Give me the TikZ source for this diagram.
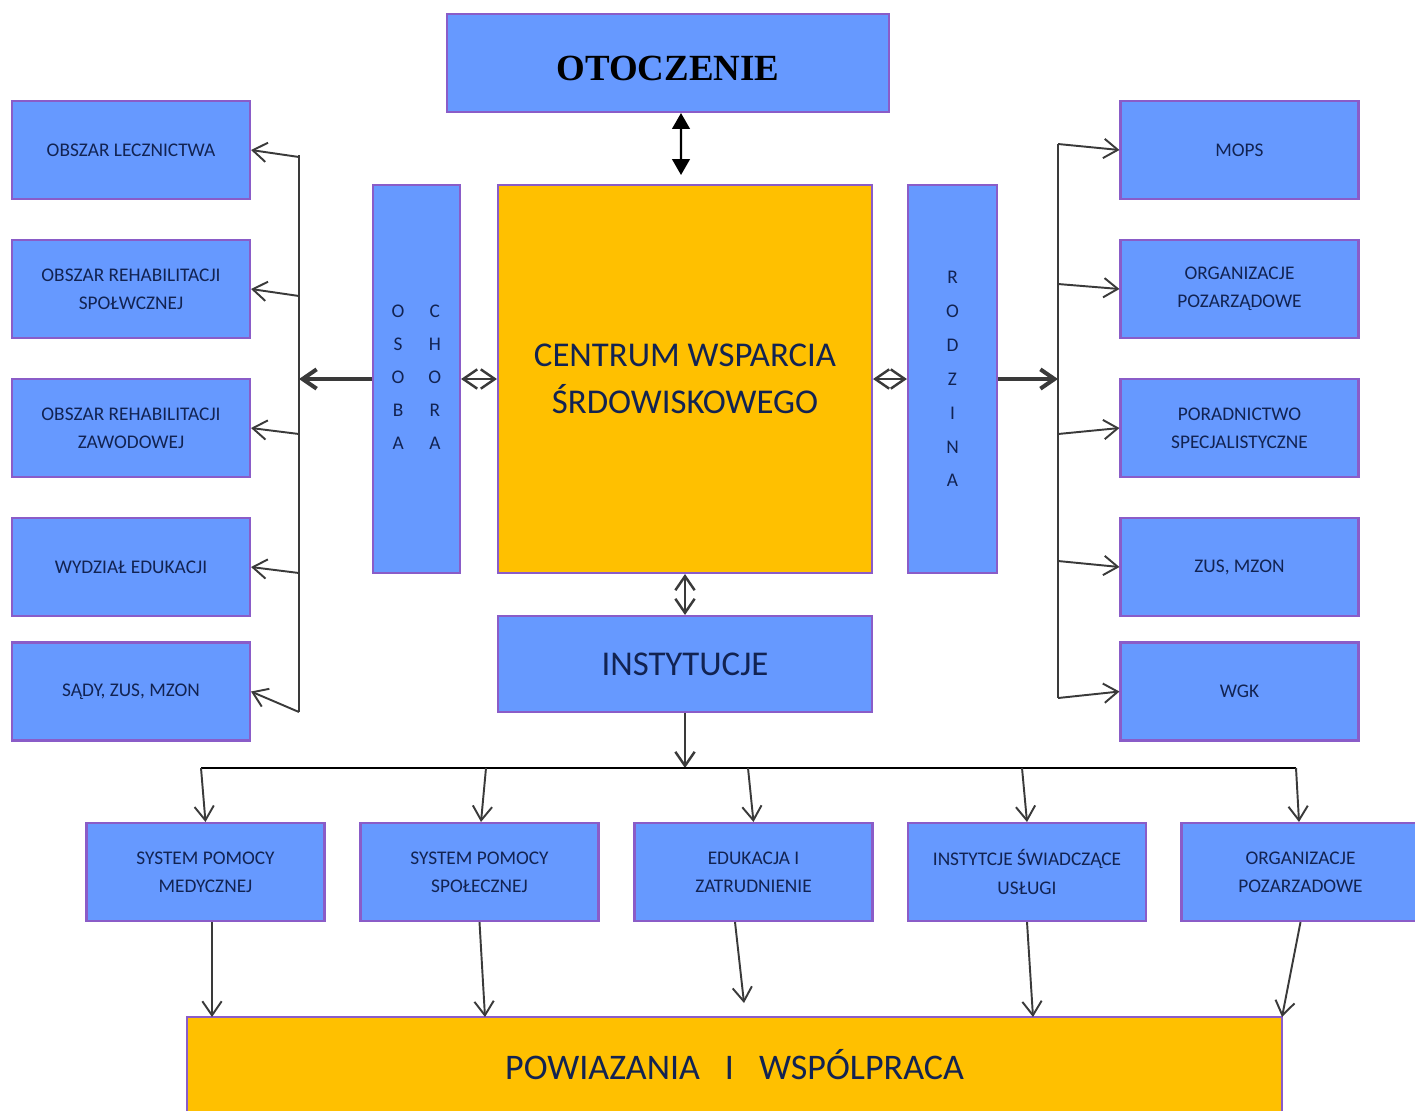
\documentclass[tikz,border=0pt]{standalone}
\usepackage{fontspec}
\setmainfont{Carlito}
\newfontfamily\titlefont{Liberation Serif}
\usepackage{tikz}
\usetikzlibrary{arrows.meta, positioning}

\definecolor{boxblue}{HTML}{6699FF}
\definecolor{boxyellow}{HTML}{FFC000}
\definecolor{boxline}{HTML}{8A5CC8}
\definecolor{txtnavy}{HTML}{122352}
\definecolor{arrowgray}{HTML}{3A3A3A}

\tikzset{
  bluebox/.style={rectangle, draw=boxline, line width=1.2pt, fill=boxblue, inner sep=0pt, text=txtnavy, align=center},
  yellowbox/.style={bluebox, fill=boxyellow},
  sidebox/.style={bluebox, minimum width=4.76cm, minimum height=1.96cm, font=\fontsize{11}{16}\selectfont},
  bigtext/.style={font=\fontsize{19.8}{26.6}\selectfont},
  barb/.style={-{Straight Barb[length=8pt,width=11pt]}, draw=arrowgray, line width=1.1pt},
  dbarb/.style={{Straight Barb[length=8pt,width=11pt]}-{Straight Barb[length=8pt,width=11pt]}, draw=arrowgray, line width=1.4pt},
  bus/.style={draw=arrowgray, line width=1.2pt}
}

\begin{document}
\begin{tikzpicture}[x=0.02cm, y=-0.02cm]
\useasboundingbox (0,0) rectangle (1415,1110);

% centre
\node[bluebox, minimum width=8.84cm, minimum height=1.96cm, text=black, font=\titlefont\bfseries\fontsize{21}{24}\selectfont] (otocz) at (668,63) {\raisebox{-0.35cm}[0pt][0pt]{OTOCZENIE}};
\node[yellowbox, bigtext, minimum width=7.48cm, minimum height=7.76cm] (centrum) at (685,379) {CENTRUM WSPARCIA\\ŚRDOWISKOWEGO};
\node[bluebox, minimum width=1.74cm, minimum height=7.76cm, font=\fontsize{11}{13}\selectfont] (osoba) at (416.5,379)
  {\begin{tabular}{@{}c@{\hspace{0.48cm}}c@{}}O & C\\[5.8pt] S & H\\[5.8pt] O & O\\[5.8pt] B & R\\[5.8pt] A & A\end{tabular}};
\node[bluebox, minimum width=1.78cm, minimum height=7.76cm, font=\fontsize{11}{19.3}\selectfont] (rodzina) at (952.5,379) {R\\O\\D\\Z\\I\\N\\A};
\node[bluebox, bigtext, minimum width=7.48cm, minimum height=1.92cm] (instyt) at (685,664) {INSTYTUCJE};

% left column
\node[sidebox] (l1) at (131,150) {OBSZAR LECZNICTWA};
\node[sidebox] (l2) at (131,289) {OBSZAR REHABILITACJI\\SPOŁWCZNEJ};
\node[sidebox] (l3) at (131,428) {OBSZAR REHABILITACJI\\ZAWODOWEJ};
\node[sidebox] (l4) at (131,567) {WYDZIAŁ EDUKACJI};
\node[sidebox] (l5) at (131,691.5) {SĄDY, ZUS, MZON};

% right column
\node[sidebox] (r1) at (1239.5,150) {MOPS};
\node[sidebox] (r2) at (1239.5,289) {ORGANIZACJE\\POZARZĄDOWE};
\node[sidebox] (r3) at (1239.5,428) {PORADNICTWO\\SPECJALISTYCZNE};
\node[sidebox] (r4) at (1239.5,567) {ZUS, MZON};
\node[sidebox] (r5) at (1239.5,691.5) {WGK};

% bottom row
\node[sidebox] (b1) at (205.5,872) {SYSTEM POMOCY\\MEDYCZNEJ};
\node[sidebox] (b2) at (479.5,872) {SYSTEM POMOCY\\SPOŁECZNEJ};
\node[sidebox] (b3) at (753.5,872) {EDUKACJA I\\ZATRUDNIENIE};
\node[sidebox] (b4) at (1027,872) {INSTYTCJE ŚWIADCZĄCE\\USŁUGI};
\node[sidebox] (b5) at (1300.5,872) {ORGANIZACJE\\POZARZADOWE};
\node[yellowbox, font=\fontsize{20.5}{26}\selectfont, minimum width=21.9cm, minimum height=1.92cm] (pw) at (734.5,1065) {POWIAZANIA\hspace{0.5cm}I\hspace{0.5cm}WSPÓLPRACA};

% bus points
\coordinate (lb1) at (299,157);
\coordinate (lb2) at (299,296);
\coordinate (lb3) at (299,434);
\coordinate (lb4) at (299,573);
\coordinate (lb5) at (299,712);
\coordinate (lbm) at (299,379);
\coordinate (rb1) at (1058,144);
\coordinate (rb2) at (1058,284);
\coordinate (rb3) at (1058,434);
\coordinate (rb4) at (1058,561);
\coordinate (rb5) at (1058,698);
\coordinate (rbm) at (1058,379);
\coordinate (h1) at (201,768);
\coordinate (h2) at (486,768);
\coordinate (h3) at (748,768);
\coordinate (h4) at (1022,768);
\coordinate (h5) at (1296,768);
\coordinate (hc) at (685,768);
\coordinate (p1) at (212,1017);
\coordinate (p2) at (485,1017);
\coordinate (p3) at (744,1003);
\coordinate (p4) at (1033,1017);
\coordinate (p5) at (1282,1017);

% connectors
\draw[{Triangle[length=9pt,width=10pt]}-{Triangle[length=9pt,width=10pt]}, line width=1.2pt] ([xshift=0.26cm]otocz.south) -- ([xshift=-0.08cm,yshift=0.18cm]centrum.north);
\draw[dbarb] (osoba.east) -- (centrum.west);
\draw[dbarb] (centrum.east) -- (rodzina.west);
\draw[dbarb] (centrum.south) -- (instyt.north);

\draw[bus] (299,155) -- (lb5);
\draw[barb, line width=2.3pt] (osoba.west) -- (lbm);
\foreach \i in {1,...,5} \draw[barb] (lb\i) -- (l\i.east);

\draw[bus] (rb1) -- (rb5);
\draw[barb, line width=2.3pt] (rodzina.east) -- (rbm);
\foreach \i in {1,...,5} \draw[barb] (rb\i) -- (r\i.west);

\draw[barb, line width=1.4pt] (instyt.south) -- (hc);
\draw[bus, draw=black] (h1) -- (h5);
\draw[barb] (h1) -- (b1.north);
\draw[barb] (h2) -- ([xshift=0.03cm]b2.north);
\draw[barb] (h3) -- (b3.north);
\draw[barb] (h4) -- (b4.north);
\draw[barb] (h5) -- ([xshift=-0.03cm]b5.north);

\draw[barb] ([xshift=0.13cm]b1.south) -- (p1);
\draw[barb] (b2.south) -- (p2);
\draw[barb] ([xshift=-0.37cm]b3.south) -- (p3);
\draw[barb] (b4.south) -- (p4);
\draw[barb] (b5.south) -- (p5);
\end{tikzpicture}
\end{document}
